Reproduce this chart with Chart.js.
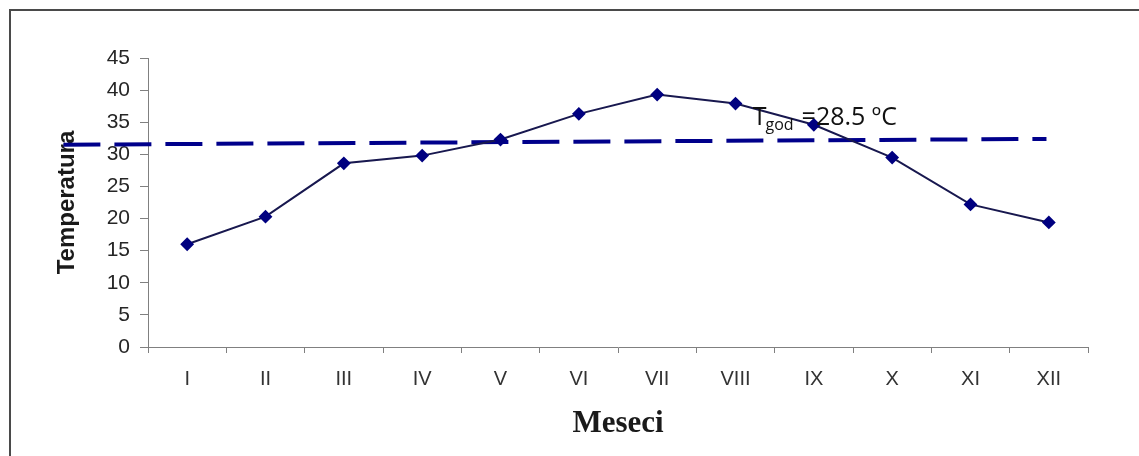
<!DOCTYPE html>
<html>
<head>
<meta charset="utf-8">
<script src="https://cdn.jsdelivr.net/npm/chart.js@4.4.1/dist/chart.umd.min.js"></script>
<style>
    html, body { margin: 0; padding: 0; background: #fff; overflow: hidden; }
    #wrap { position: relative; width: 1139px; height: 456px; }
    #frame { position: absolute; left: 9px; top: 9px; width: 1200px; height: 500px; border: 2px solid #4a4a4a; box-sizing: border-box; }
    canvas { position: absolute; left: 0; top: 0; }
</style>
</head>
<body>
<div id="wrap">
    <div id="frame"></div>
    <canvas id="tempChart" width="1139" height="456"></canvas>
</div>
<script>
// months (roman numerals) and monthly temperatures
const months = ["I", "II", "III", "IV", "V", "VI", "VII", "VIII", "IX", "X", "XI", "XII"];
const temperatures = [16.0, 20.3, 28.6, 29.8, 32.3, 36.3, 39.3, 37.9, 34.6, 29.5, 22.2, 19.4];

// the dashed "T god" line, as drawn (slightly sloped, runs past the y axis)
const avgLineX = [-1.58, 10.97];
const avgLineY = [31.5, 32.4];
const avgLabel = "=28.5 \u00BAC";

document.addEventListener("DOMContentLoaded", function () {
    const ctx = document.getElementById("tempChart").getContext("2d");

    // writes "T god =28.5 ºC" next to the dashed line
    const tgodLabel = {
        id: "tgodLabel",
        afterDatasetsDraw(chart) {
            const c = chart.ctx;
            const x = chart.scales.x2.getPixelForValue(7.22);
            const y = chart.scales.y.getPixelForValue(34.6);
            c.save();
            c.fillStyle = "#111";
            c.textBaseline = "alphabetic";
            c.font = "25px 'Open Sans'";
            c.fillText("T", x, y);
            let w = c.measureText("T").width;
            c.font = "16px 'Open Sans'";
            c.fillText("god", x + w - 1, y + 5);
            w += c.measureText("god").width + 7;
            c.font = "25px 'Open Sans'";
            c.fillText(avgLabel, x + w, y);
            c.restore();
        }
    };

    new Chart(ctx, {
        type: "line",
        data: {
            labels: months,
            datasets: [{
                data: temperatures,
                borderColor: "#18184f",
                borderWidth: 2,
                pointStyle: "rectRot",
                pointRadius: 5.5,
                pointBackgroundColor: "#000080",
                pointBorderColor: "#000080",
                tension: 0,
                fill: false
            }, {
                data: avgLineX.map((x, i) => ({ x: x, y: avgLineY[i] })),
                xAxisID: "x2",
                borderColor: "#00008b",
                borderWidth: 4,
                borderDash: [37, 14],
                pointRadius: 0,
                clip: false,
                fill: false
            }]
        },
        options: {
            responsive: false,
            animation: false,
            layout: { padding: { top: 58, right: 51, bottom: 0, left: 0 } },
            plugins: {
                legend: { display: false },
                tooltip: { enabled: false }
            },
            scales: {
                x: {
                    type: "category",
                    offset: true,
                    grid: { offset: true, drawOnChartArea: false, tickLength: 6, color: "#808080" },
                    border: { color: "#808080" },
                    ticks: {
                        color: "#333",
                        font: { family: "'Liberation Sans'", size: 20 },
                        padding: 14,
                        maxRotation: 0,
                        autoSkip: false
                    },
                    title: {
                        display: true,
                        text: "Meseci",
                        color: "#1a1a1a",
                        font: { family: "'Liberation Serif'", size: 31, weight: "bold" },
                        padding: { top: 0, bottom: 13 }
                    },
                    afterFit: function (s) { s.height = 456 - 347; }
                },
                x2: { type: "linear", display: false, min: -0.5, max: 11.5 },
                y: {
                    min: 0,
                    max: 45,
                    ticks: {
                        stepSize: 5,
                        color: "#262626",
                        font: { family: "'Liberation Sans'", size: 21 },
                        padding: 10
                    },
                    grid: { drawOnChartArea: false, tickLength: 8, color: "#808080" },
                    border: { color: "#808080" },
                    title: {
                        display: true,
                        text: "Temperatura",
                        color: "#1a1a1a",
                        font: { family: "'Liberation Sans'", size: 24, weight: "bold" },
                        padding: { top: 53, bottom: 0 }
                    },
                    afterFit: function (s) { s.width = 148; }
                }
            }
        },
        plugins: [tgodLabel]
    });
});
</script>
</body>
</html>
